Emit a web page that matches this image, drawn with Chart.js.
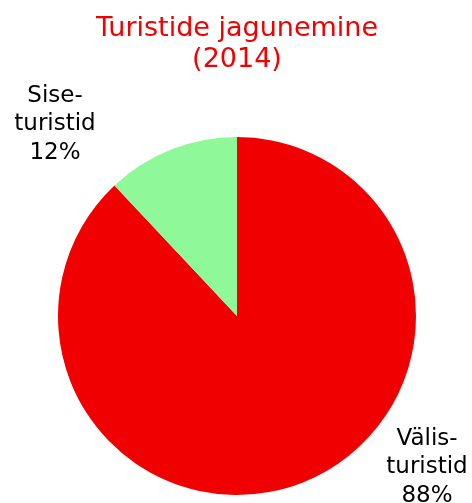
<!DOCTYPE html>
<html>
<head>
<meta charset="utf-8">
<script src="https://cdn.jsdelivr.net/npm/chart.js@4"></script>
<style>
html,body{margin:0;padding:0;background:#fff;}
#c{display:block;}
</style>
</head>
<body>
<canvas id="c" width="472" height="503"></canvas>
<script>
const titleLines = ["Turistide jagunemine", "(2014)"];
const categories = ["Välisturistid", "Siseturistid"];
const labelLines = [["Välis-", "turistid", "88%"], ["Sise-", "turistid", "12%"]];
const values = [88, 12];
const colors = ["#F00000", "#8FF99A"];

const textPlugin = {
  id: 'textPlugin',
  afterDraw(chart) {
    const ctx = chart.ctx;
    ctx.save();
    ctx.textAlign = 'center';
    ctx.textBaseline = 'alphabetic';
    ctx.font = '27px "DejaVu Sans", Verdana, sans-serif';
    ctx.fillStyle = '#F00000';
    ctx.fillText(titleLines[0], 237, 36);
    ctx.fillText(titleLines[1], 237, 67);
    ctx.font = '23px "DejaVu Sans", Verdana, sans-serif';
    ctx.fillStyle = '#000';
    const pos = [[427, 445], [55, 102]];
    labelLines.forEach((lines, i) => {
      lines.forEach((t, j) => ctx.fillText(t, pos[i][0], pos[i][1] + j * 28.3));
    });
    ctx.restore();
  }
};

new Chart(document.getElementById('c'), {
  type: 'pie',
  data: {
    labels: categories,
    datasets: [{ data: values, backgroundColor: colors, borderWidth: 0 }]
  },
  options: {
    responsive: false,
    animation: false,
    layout: { padding: { top: 137, bottom: 8, left: 58, right: 56 } },
    plugins: { legend: { display: false }, title: { display: false }, tooltip: { enabled: false } }
  },
  plugins: [textPlugin]
});
</script>
</body>
</html>
